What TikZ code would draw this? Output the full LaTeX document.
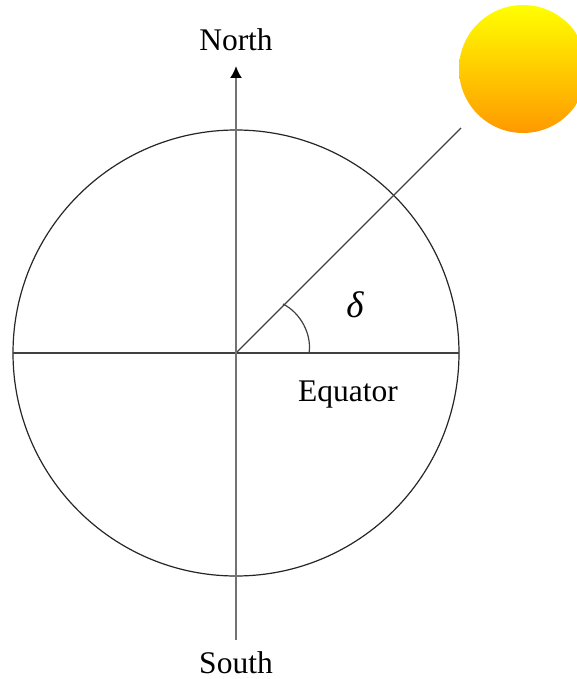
\documentclass[tikz,border=0pt]{standalone}
\usepackage{fontspec}
\setmainfont{Liberation Serif}
\usetikzlibrary{arrows.meta}
\tikzset{
  line/.style={draw=black!75,line width=1.2pt},
  axisline/.style={draw=black!55,line width=2pt},
  lbl/.style={inner sep=0pt,font=\fontsize{31.5}{32}\selectfont,text=black,anchor=base},
}
\begin{document}
\begin{tikzpicture}[x=1pt,y=-1pt]
\useasboundingbox (0,0) rectangle (577,679);
\begin{scope}
\clip (0,0) rectangle (577,679);
\path[top color=yellow,bottom color={rgb,255:red,255;green,153;blue,0},shading angle=0] (523,69) circle[radius=64];
\end{scope}
\coordinate (C) at (236,353);
\coordinate (Ntip) at (236,66);
\coordinate (Send) at (236,640);
\coordinate (Wend) at (13,353);
\coordinate (Eend) at (459,353);
\coordinate (Sunend) at (461,128);
\coordinate (ArcA) at (309,353);
\coordinate (ArcB) at (283,304);
\draw[line,draw=black!85] (C) circle[radius=223];
\draw[line] (Wend) -- (Eend);
\draw[line] (C) -- (Sunend);
\draw[axisline] (Send) -- (C);
\draw[axisline,-{Latex[length=12pt,width=12pt,color=black]}] (C) -- (Ntip);
\draw[line] (ArcA) .. controls (312,335) and (301,313) .. (ArcB);
\node[lbl] (north) at (236,51) {North};
\node[lbl] (south) at (236,673) {South};
\node[lbl] (equator) at (348,401) {Equator};
\node[inner sep=0pt,anchor=base] (delta) at (355,317) {\fontsize{37}{37}\selectfont\itshape δ};
\end{tikzpicture}
\end{document}
